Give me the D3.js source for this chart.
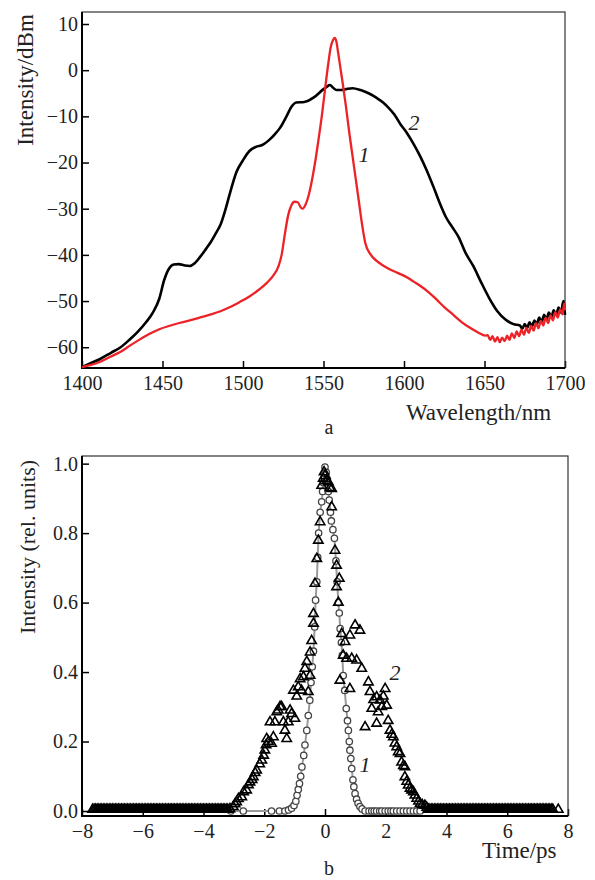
<!DOCTYPE html>
<html>
<head>
<meta charset="utf-8">
<script src="https://cdn.jsdelivr.net/npm/d3@7"></script>
<style>
body{margin:0;background:#fff;}
svg{display:block;}
.axis path{display:none;}
.axis line{stroke:#000;stroke-width:1.5;}
</style>
</head>
<body>
<script>
/**
 * two panels: a - spectra (dBm vs nm), b - pulse shapes (rel. units vs ps)
 */

var FONT = '"Liberation Serif","Times New Roman",serif';

// panel a, curve 1 (red)
var wavelength1 = [1400,1405,1411,1418,1424,1430,1436,1442,1448,1455,1461,1467,1473,1480,1486,1492,1498,1504,1510,1515,
	1519,1522,1524,1526,1528,1530,1532,1534,1536,1537,1539,1541,1543,1545,1547,1549,1551,1553,1554.5,1556,
	1557,1558,1559,1560.5,1562,1564,1566,1568,1570,1572,1574,1576,1579,1583,1587,1591,1596,1602,1606,1610,
	1615,1620,1625,1630,1636,1641,1646,1650.5,
	1652,1653.5,1655,1656.5,1658,1659.5,1661,1662.5,1664,1665.5,1667,1668.5,1670,1671.5,1673,1674.5,1676,1677.5,1679,1680.5,
	1682,1683.5,1685,1686.5,1688,1689.5,1691,1692.5,1694,1695.5,1697,1698.5,1699.5,1700];
var intensity1 = [-64.3,-63.9,-63.2,-62.0,-61.0,-59.6,-58.3,-57.1,-56.1,-55.3,-54.7,-54.2,-53.6,-52.9,-52.2,-51.3,-50.2,-49.0,-47.5,-46.0,
	-44.4,-42.5,-40.0,-35.5,-31.5,-29.3,-28.5,-28.6,-29.8,-30.0,-29.0,-26.8,-23.5,-19.5,-14.8,-9.8,-4.0,1.5,5.0,6.6,
	7.0,6.2,4.0,0.5,-3.0,-8.0,-13.5,-18.5,-23.5,-28.5,-33.5,-37.5,-39.8,-41.3,-42.3,-43.1,-43.9,-44.9,-45.8,-46.7,
	-48.0,-49.6,-51.3,-52.8,-54.6,-55.8,-56.8,-57.5,
	-57.4,-58.4,-57.6,-58.8,-57.8,-58.9,-57.9,-58.7,-57.5,-58.4,-57.0,-58.0,-56.6,-57.6,-56.2,-57.3,-55.8,-56.9,-55.4,-56.4,
	-54.8,-55.9,-54.3,-55.3,-53.6,-54.8,-53.1,-54.2,-52.4,-53.6,-51.8,-52.9,-50.5,-52.0];

// panel a, curve 2 (black)
var wavelength2 = [1400,1405,1411,1418,1424,1430,1434,1440,1444,1448,1451,1454,1457,1460,1464,1467,1470,1473,1477,1480,
	1483,1486,1489,1492,1496,1500,1504,1508,1512,1516,1520,1523,1527,1530,1533,1538,1544,1550,1552,1554,
	1556,1558,1561,1564,1568,1573,1578,1583,1587,1590,1594,1598,1602,1606,1610,1614,1618,1622,1626,1630,
	1634,1638,1643,1648,1653,1658,1663,1668,
	1672,1673.5,1675,1676.5,1678,1679.5,1681,1682.5,1684,1685.5,1687,1688.5,1690,1691.5,1693,1694.5,1696,1697.5,1699,1700];
var intensity2 = [-64.3,-63.5,-62.6,-61.2,-60.0,-58.2,-56.9,-54.5,-52.5,-49.5,-45.5,-43.0,-42.1,-42.0,-42.3,-42.4,-41.8,-40.6,-38.7,-37.2,
	-35.4,-33.5,-30.3,-26.5,-22.0,-19.5,-17.5,-16.6,-16.2,-15.2,-13.8,-12.5,-10.0,-8.0,-7.0,-6.9,-5.9,-4.1,-3.6,-3.2,
	-3.8,-4.3,-4.3,-4.1,-3.9,-4.3,-5.0,-6.0,-7.0,-8.0,-9.6,-11.8,-13.7,-16.0,-18.6,-21.6,-25.0,-28.6,-31.8,-34.0,
	-36.2,-39.4,-42.4,-46.0,-49.4,-52.2,-54.0,-55.0,
	-55.3,-56.0,-55.0,-55.8,-54.6,-55.5,-54.2,-55.0,-53.6,-54.6,-53.0,-54.0,-52.5,-53.5,-52.0,-53.0,-51.4,-52.5,-50.0,-53.0];

var wavelengthTicks = [1400,1450,1500,1550,1600,1650,1700];
var dbmTicks = [10,0,-10,-20,-30,-40,-50,-60];

// panel b, curve 1 (circles + grey line)
var time1 = [-3.1,-2.69,-1.76,-1.50,-1.32,-1.20,-1.10,-1.02,-0.96,-0.92,
	-0.88,-0.84,-0.80,-0.76,-0.70,-0.66,-0.60,-0.55,-0.50,-0.46,
	-0.42,-0.38,-0.34,-0.31,-0.27,-0.24,-0.21,-0.16,-0.11,-0.08,
	-0.05,-0.02,0.0,0.04,0.08,0.11,0.14,0.18,0.21,0.26,
	0.31,0.36,0.40,0.44,0.47,0.50,0.54,0.57,0.60,0.65,
	0.70,0.74,0.77,0.80,0.82,0.85,0.88,0.92,0.95,0.99,
	1.04,1.09,1.15,1.22,1.32,1.45,1.54,1.62,1.70,1.80,
	1.87,1.98,2.08,2.17,2.25,2.36,2.47,2.58,2.69,2.80,
	2.91,3.02,3.13];
var pulse1 = [0,0,0,0,0,0.003,0.008,0.016,0.028,0.045,
	0.062,0.079,0.10,0.127,0.16,0.19,0.232,0.275,0.319,0.37,
	0.415,0.46,0.53,0.607,0.66,0.73,0.80,0.86,0.89,0.92,
	0.945,0.972,0.99,0.975,0.955,0.92,0.895,0.86,0.835,0.81,
	0.785,0.72,0.66,0.60,0.57,0.525,0.485,0.448,0.39,0.347,
	0.295,0.26,0.232,0.20,0.175,0.151,0.122,0.09,0.07,0.05,
	0.034,0.022,0.013,0.006,0,0,0,0,0,0,
	0,0,0,0,0,0,0,0,0,0,
	0,0,0];

// panel b, curve 2 (triangles)
var time2 = [-3.13,-3.02,-2.96,-2.91,-2.85,-2.74,-2.68,-2.58,-2.52,-2.47,
	-2.40,-2.36,-2.30,-2.25,-2.15,-2.08,-2.02,-1.98,-1.94,-1.92,
	-1.86,-1.81,-1.76,-1.70,-1.65,-1.59,-1.54,-1.48,-1.43,-1.37,
	-1.32,-1.26,-1.21,-1.15,-1.10,-1.04,-0.99,-0.93,-0.88,-0.82,
	-0.77,-0.71,-0.66,-0.60,-0.55,-0.49,-0.49,-0.44,-0.38,-0.38,
	-0.33,-0.27,-0.22,-0.16,-0.11,-0.06,-0.03,0.0,0.05,0.11,
	0.16,0.22,0.22,0.33,0.38,0.47,0.38,0.44,0.49,0.55,
	0.60,0.66,0.71,0.82,0.82,0.88,0.99,1.04,1.15,1.21,
	1.32,1.43,1.48,1.54,1.60,1.70,1.70,1.75,1.81,1.87,
	1.92,1.98,2.03,2.08,2.14,2.20,2.25,2.30,2.36,2.41,
	2.47,2.52,2.58,2.63,2.63,2.69,2.74,2.80,2.85,2.91,
	2.96,3.02,3.08,3.13,3.20,3.29,3.35];
var pulse2 = [0.006,0.012,0.02,0.026,0.035,0.04,0.055,0.06,0.075,0.083,
	0.09,0.098,0.11,0.117,0.135,0.146,0.16,0.175,0.19,0.208,
	0.2,0.256,0.194,0.213,0.256,0.285,0.29,0.30,0.30,0.256,
	0.232,0.208,0.256,0.29,0.28,0.347,0.266,0.33,0.357,0.38,
	0.347,0.386,0.41,0.43,0.343,0.39,0.457,0.49,0.54,0.568,
	0.655,0.726,0.779,0.832,0.937,0.957,0.976,0.965,0.95,0.947,
	0.93,0.928,0.875,0.75,0.707,0.669,0.645,0.60,0.376,0.51,
	0.448,0.487,0.439,0.506,0.352,0.439,0.535,0.434,0.52,0.41,
	0.242,0.371,0.343,0.295,0.32,0.328,0.252,0.285,0.319,0.30,
	0.33,0.352,0.304,0.26,0.232,0.22,0.213,0.195,0.184,0.17,
	0.165,0.14,0.13,0.127,0.098,0.085,0.074,0.065,0.06,0.055,
	0.045,0.036,0.028,0.021,0.018,0.016,0.01];
// flat wings of curve 2 (dense samples, level read at ~0.004)
var time2Wings = [-7.65,-7.6,-7.55,-7.5,-7.45,-7.4,-7.35,-7.3,-7.25,-7.2,-7.15,-7.1,-7.05,-7.0,-6.95,-6.9,-6.85,-6.8,-6.75,-6.7,
	-6.65,-6.6,-6.55,-6.5,-6.45,-6.4,-6.35,-6.3,-6.25,-6.2,-6.15,-6.1,-6.05,-6.0,-5.95,-5.9,-5.85,-5.8,-5.75,-5.7,
	-5.65,-5.6,-5.55,-5.5,-5.45,-5.4,-5.35,-5.3,-5.25,-5.2,-5.15,-5.1,-5.05,-5.0,-4.95,-4.9,-4.85,-4.8,-4.75,-4.7,
	-4.65,-4.6,-4.55,-4.5,-4.45,-4.4,-4.35,-4.3,-4.25,-4.2,-4.15,-4.1,-4.05,-4.0,-3.95,-3.9,-3.85,-3.8,-3.75,-3.7,
	-3.65,-3.6,-3.55,-3.5,-3.45,-3.4,-3.35,-3.3,-3.25,-3.2,
	3.4,3.45,3.5,3.55,3.6,3.65,3.7,3.75,3.8,3.85,3.9,3.95,4.0,4.05,4.1,4.15,4.2,4.25,4.3,4.35,
	4.4,4.45,4.5,4.55,4.6,4.65,4.7,4.75,4.8,4.85,4.9,4.95,5.0,5.05,5.1,5.15,5.2,5.25,5.3,5.35,
	5.4,5.45,5.5,5.55,5.6,5.65,5.7,5.75,5.8,5.85,5.9,5.95,6.0,6.05,6.1,6.15,6.2,6.25,6.3,6.35,
	6.4,6.45,6.5,6.55,6.6,6.65,6.7,6.75,6.8,6.85,6.9,6.95,7.0,7.05,7.1,7.15,7.2,7.25,7.3,7.35,
	7.4,7.45,7.5,7.68];
var pulse2WingLevel = 0.004;

var timeTicks = [-8,-6,-4,-2,0,2,4,6,8];
var relTicks = [0,0.2,0.4,0.6,0.8,1.0];

var svg = d3.select('body').append('svg').attr('width',595).attr('height',880);
svg.append('rect').attr('width',595).attr('height',880).attr('fill','#fff');

/** frame + inward ticks of one panel */
function drawFrame(x,y,xTicks,yTicks,xFormat,yFormat){
	var x0 = x.range()[0], x1 = x.range()[1], y0 = y.range()[0], y1 = y.range()[1];
	var gx = svg.append('g')
	.attr('class','axis')
	.attr('transform','translate(0,' + y0 + ')')
	.call(d3.axisBottom(x).tickValues(xTicks).tickFormat(xFormat).tickSizeInner(-7).tickSizeOuter(0).tickPadding(8));
	var gy = svg.append('g')
	.attr('class','axis')
	.attr('transform','translate(' + x0 + ',0)')
	.call(d3.axisLeft(y).tickValues(yTicks).tickFormat(yFormat).tickSizeInner(-7).tickSizeOuter(0).tickPadding(4));
	[gx,gy].forEach(function(g){
		g.attr('font-family',FONT).attr('font-size',20);
		g.selectAll('text').attr('fill','#222');
	});
	svg.append('rect')
	.attr('x',x0).attr('y',y1).attr('width',x1-x0).attr('height',y0-y1)
	.attr('fill','none').attr('stroke','#333').attr('stroke-width',1.2);
	svg.append('path')
	.attr('d','M' + x0 + ',' + y1 + 'V' + y0 + 'H' + x1)
	.attr('fill','none').attr('stroke','#000').attr('stroke-width',2);
}

/** plain text label helper */
function label(txt,x,y,size,opts){
	opts = opts || {};
	var t = svg.append('text')
	.attr('x',x).attr('y',y)
	.attr('font-family',FONT)
	.attr('font-size',size)
	.attr('fill','#222')
	.attr('text-anchor',opts.anchor || 'start')
	.attr('font-style',opts.italic ? 'italic' : 'normal')
	.text(txt);
	if(opts.rotate){t.attr('transform','rotate(-90,' + x + ',' + y + ')').attr('dominant-baseline','central');}
	return t;
}

// ---- panel a
var xA = d3.scaleLinear().domain([1400,1700]).range([82,565]);
var yA = d3.scaleLinear().domain([-64.5,12.6]).range([368,12]);
drawFrame(xA,yA,wavelengthTicks,dbmTicks,d3.format('d'),d3.format('d'));

var lineA = d3.line()
	.x(function(d){return xA(d[0]);})
	.y(function(d){return yA(d[1]);})
	.curve(d3.curveMonotoneX);

svg.append('path')
	.datum(d3.zip(wavelength2,intensity2))
	.attr('d',lineA)
	.attr('fill','none').attr('stroke','#000').attr('stroke-width',2.6);
svg.append('path')
	.datum(d3.zip(wavelength1,intensity1))
	.attr('d',lineA)
	.attr('fill','none').attr('stroke','#ec2227').attr('stroke-width',2.3);

label('Intensity/dBm',25,80,23,{anchor:'middle',rotate:true});
label('Wavelength/nm',406,420,23);
label('a',329,434,20,{anchor:'middle'});
label('2',414,130,22,{anchor:'middle',italic:true});
label('1',364,162,22,{anchor:'middle',italic:true});

// ---- panel b
var xB = d3.scaleLinear().domain([-8,8]).range([82,568]);
var yB = d3.scaleLinear().domain([-0.0144,1.022]).range([816,456]);
drawFrame(xB,yB,timeTicks,relTicks,d3.format('d'),d3.format('.1f'));

var lineB = d3.line()
	.x(function(d){return xB(d[0]);})
	.y(function(d){return yB(d[1]);});

var pts1 = d3.zip(time1,pulse1);
svg.append('path')
	.datum(pts1)
	.attr('d',lineB)
	.attr('fill','none').attr('stroke','#9a9a9a').attr('stroke-width',2);
svg.append('g')
	.selectAll('circle')
	.data(pts1)
	.join('circle')
	.attr('cx',function(d){return xB(d[0]);})
	.attr('cy',function(d){return yB(d[1]);})
	.attr('r',3.2)
	.attr('fill','#fff').attr('stroke','#444').attr('stroke-width',1.3);

var pts2 = d3.zip(time2,pulse2).concat(time2Wings.map(function(t){return [t,pulse2WingLevel];}));
var tri = d3.symbol().type(d3.symbolTriangle).size(38);
svg.append('g')
	.selectAll('path')
	.data(pts2)
	.join('path')
	.attr('d',tri)
	.attr('transform',function(d){return 'translate(' + xB(d[0]) + ',' + yB(d[1]) + ')';})
	.attr('fill','none').attr('stroke','#000').attr('stroke-width',1.6);

label('Intensity (rel. units)',27,547,22,{anchor:'middle',rotate:true});
label('Time/ps',482,858,23);
label('b',329,875,20,{anchor:'middle'});
label('1',365,772,22,{anchor:'middle',italic:true});
label('2',395,680,22,{anchor:'middle',italic:true});
</script>
</body>
</html>
